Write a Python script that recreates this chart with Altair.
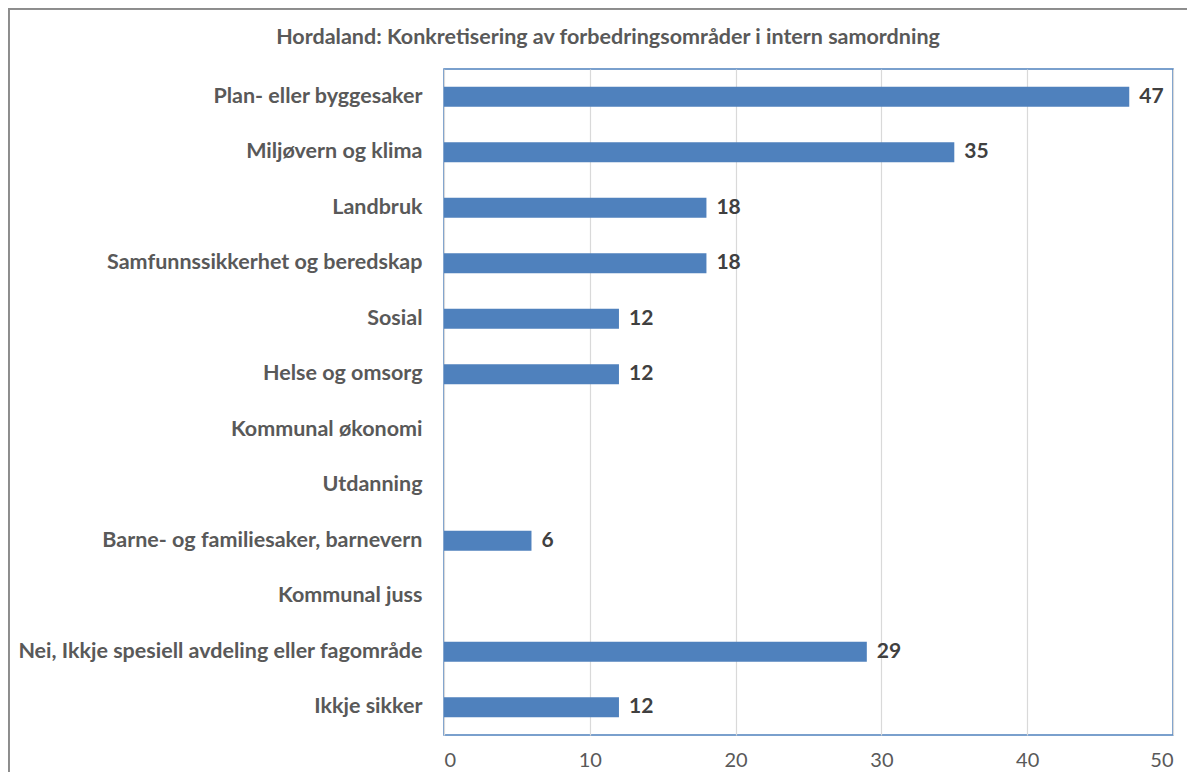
import altair as alt
import pandas as pd

categories = [
    "Plan- eller byggesaker ",
    "Miljøvern og klima",
    "Landbruk",
    "Samfunnssikkerhet og beredskap",
    "Sosial",
    "Helse og omsorg",
    "Kommunal økonomi",
    "Utdanning",
    "Barne- og familiesaker, barnevern",
    "Kommunal juss",
    "Nei, Ikkje spesiell avdeling eller fagområde",
    "Ikkje sikker",
]
values = [47, 35, 18, 18, 12, 12, 0, 0, 6, 0, 29, 12]
x_ticks = [0, 10, 20, 30, 40, 50]
title_text = "Hordaland: Konkretisering av forbedringsområder i intern samordning"

df = pd.DataFrame({"cat": categories, "value": values})
title_df = pd.DataFrame({"t": [title_text]})

FONT = "Lato"

y_enc = alt.Y(
    "cat:N",
    sort=categories,
    scale=alt.Scale(paddingInner=0.64, paddingOuter=0.32),
    axis=alt.Axis(
        title=None, ticks=False, domain=False, labelFontSize=21.5, labelFontWeight="bold",
        labelColor="#595959", labelPadding=22, labelFont=FONT, labelLimit=600,
    ),
)
x_enc = alt.X(
    "value:Q",
    scale=alt.Scale(domain=[0, 50], nice=False),
    axis=alt.Axis(
        title=None, values=x_ticks, ticks=False, domain=False, labelFontSize=20,
        labelColor="#595959", labelPadding=15, labelFont=FONT, gridColor="#D9D9D9",
        gridWidth=1.2,
    ),
)

bars = alt.Chart(df).mark_bar(color="#4F81BD").encode(y=y_enc, x=x_enc)

labels = alt.Chart(df).transform_filter("datum.value > 0").mark_text(
    align="left", baseline="middle", dx=10, fontSize=21, fontWeight="bold",
    color="#404040", font=FONT,
).encode(y=alt.Y("cat:N", sort=categories), x="value:Q", text="value:Q")

title = alt.Chart(title_df).mark_text(
    align="center", baseline="middle", fontSize=21.5, fontWeight="bold",
    color="#595959", font=FONT,
).encode(x=alt.value(164), y=alt.value(-31), text="t:N")

frame_top = alt.Chart(df).mark_rule(color="#8C8C8C", strokeWidth=1.5).encode(
    x=alt.value(-435.5), x2=alt.value(770), y=alt.value(-60.5)
)
frame_left = alt.Chart(df).mark_rule(color="#8C8C8C", strokeWidth=1.5).encode(
    x=alt.value(-435.5), y=alt.value(-60.5), y2=alt.value(740)
)

chart = alt.layer(bars, labels, title, frame_top, frame_left).properties(
    width=729,
    height=666,
    autosize=alt.AutoSizeParams(type="none"),
    padding={"left": 436, "top": 61, "right": 14, "bottom": 37},
).configure_view(stroke="#4F81BD", strokeWidth=1.5)

chart.save("out.html", embed_options={"renderer": "svg", "actions": False})
